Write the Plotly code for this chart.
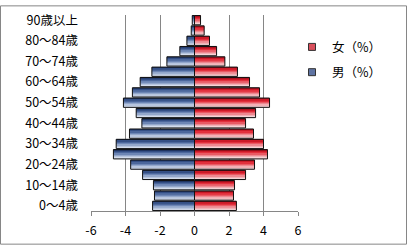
import plotly.graph_objects as go

categories = ["0～4歳", "5～9歳", "10～14歳", "15～19歳", "20～24歳", "25～29歳",
              "30～34歳", "35～39歳", "40～44歳", "45～49歳", "50～54歳", "55～59歳",
              "60～64歳", "65～69歳", "70～74歳", "75～79歳", "80～84歳", "85～89歳",
              "90歳以上"]
male = [2.43, 2.32, 2.38, 3.01, 3.70, 4.70, 4.54, 3.77, 3.05, 3.38, 4.12, 3.60,
        3.15, 2.47, 1.60, 0.85, 0.44, 0.19, 0.13]
female = [2.43, 2.26, 2.32, 2.96, 3.48, 4.23, 4.00, 3.42, 2.96, 3.54, 4.35, 3.77,
          3.19, 2.49, 1.76, 1.28, 0.87, 0.56, 0.35]
x_ticks = [-6, -4, -2, 0, 2, 4, 6]
tick_cats = categories[::2]
names = ["女（%）", "男（%）"]

# gradient stripes, top to bottom
blue_grad = ["#22396a", "#344f85", "#4c679c", "#6d86b5", "#93a7cb", "#b7c5de", "#d3dcec"]
red_grad = ["#a30f1c", "#cc1a28", "#e2303d", "#e95a64", "#ee8890", "#f2b0b5", "#f6d3d6"]

W = 0.9
FONT = "Noto Sans CJK JP"
fig = go.Figure()

neg_male = [-v for v in male]
for vals, grad in ((neg_male, blue_grad), (female, red_grad)):
    n = len(grad)
    for i, c in enumerate(grad):
        # i=0 is top stripe
        off = W / 2 - (i + 1) * W / n
        fig.add_trace(go.Bar(y=categories, x=vals, orientation="h", width=W / n,
                             offset=off, marker=dict(color=c, line=dict(width=0)),
                             showlegend=False, hoverinfo="skip"))
    fig.add_trace(go.Bar(y=categories, x=vals, orientation="h", width=W,
                         offset=-W / 2,
                         marker=dict(color="rgba(0,0,0,0)",
                                     line=dict(color="#111111", width=1)),
                         showlegend=False, hoverinfo="skip"))

# legend entries
fig.add_trace(go.Scatter(x=[None], y=[None], mode="markers", name=names[0],
                         legendgroup="f",
                         marker=dict(symbol="square", size=7, color="#d9505c",
                                     line=dict(color="#333333", width=1))))
fig.add_trace(go.Scatter(x=[None], y=[None], mode="markers", name=names[1],
                         legendgroup="m",
                         marker=dict(symbol="square", size=7, color="#5f74a3",
                                     line=dict(color="#333333", width=1))))

L, R, T, B = 91, 109, 10, 35
PW, PH = 407 - L - R, 249 - T - B

fig.update_layout(
    width=407, height=249,
    margin=dict(l=L, r=R, t=T, b=B),
    barmode="overlay",
    paper_bgcolor="white", plot_bgcolor="white",
    font=dict(family=FONT, size=12.5, color="#000000"),
    showlegend=True,
    legend=dict(x=(292 - L) / PW, y=(214 - 28) / PH, xanchor="left", yanchor="top",
                traceorder="grouped", tracegroupgap=6, itemwidth=30,
                font=dict(family=FONT, size=12.5), bgcolor="rgba(0,0,0,0)"),
    xaxis=dict(range=[-6, 6], tickvals=x_ticks, ticktext=[str(v) for v in x_ticks],
               showgrid=True, gridcolor="#868686", gridwidth=1,
               zeroline=True, zerolinecolor="#868686", zerolinewidth=1,
               showline=True, linecolor="#868686", linewidth=1,
               ticks="outside", ticklen=4, tickcolor="#868686",
               ticklabelstandoff=4, fixedrange=True),
    yaxis=dict(type="category", categoryorder="array", categoryarray=categories,
               range=[-0.5, len(categories) - 0.5],
               tickmode="array", tickvals=tick_cats, ticktext=tick_cats,
               showgrid=False, zeroline=False, showline=False, ticks="",
               ticklabelstandoff=12, fixedrange=True),
    shapes=[dict(type="rect", xref="paper", yref="paper",
                 x0=(0.5 - L) / PW, x1=(406.5 - L) / PW,
                 y0=(214 - 248.5) / PH, y1=(214 - 0.5) / PH,
                 line=dict(color="#868686", width=1), fillcolor="rgba(0,0,0,0)",
                 layer="below")],
)

fig.write_html("out.html")
